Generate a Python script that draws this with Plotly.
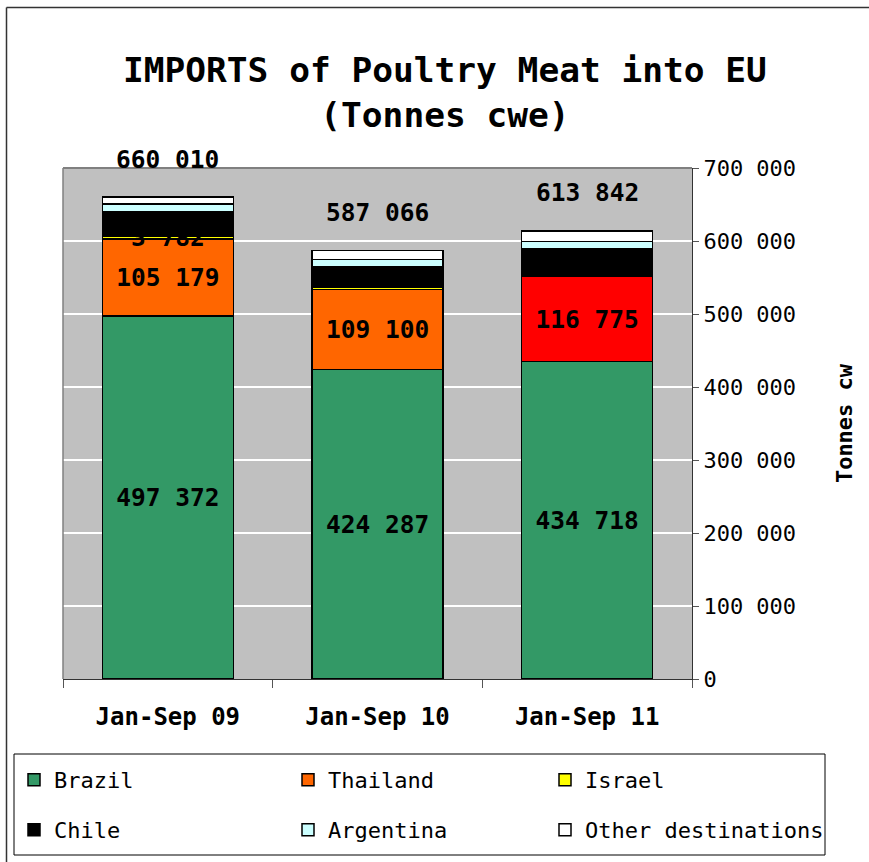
import plotly.graph_objects as go

# ---- data ----
periods = ["Jan-Sep 09", "Jan-Sep 10", "Jan-Sep 11"]
brazil = [497372, 424287, 434718]
thailand = [105179, 109100, 116775]
israel = [3782, 3700, 900]
chile = [33300, 27800, 37000]
argentina = [11000, 10000, 10000]
other = [9349, 12179, 14449]
totals = [660010, 587066, 613842]
ytick_vals = [0, 100000, 200000, 300000, 400000, 500000, 600000, 700000]

thai_colors = ["#FF6600", "#FF6600", "#FF0000"]


def fmt(v):
    return f"{v:,}".replace(",", " ")


W, H = 869, 862
L, R, T, B = 63, 692, 168, 679  # plot area pixels


def px_x(p):
    return (p - L) / (R - L)


def px_y(p):
    return (B - p) / (B - T)


MONO = "DejaVu Sans Mono"
line = dict(color="black", width=1.5)
lab_font = dict(family=MONO, size=24.5, color="black", weight="bold")

fig = go.Figure()
fig.add_trace(go.Bar(name="Brazil", x=periods, y=brazil, marker=dict(color="#339966", line=line),
                     text=[fmt(v) for v in brazil], textposition="inside", insidetextanchor="middle",
                     textfont=lab_font, constraintext="none", legend="legend"))
fig.add_trace(go.Bar(name="Thailand", x=periods, y=thailand, marker=dict(color=thai_colors, line=line),
                     text=[fmt(v) for v in thailand], textposition="inside", insidetextanchor="middle",
                     textfont=lab_font, constraintext="none", legend="legend2"))
fig.add_trace(go.Bar(name="Israel", x=periods, y=israel, marker=dict(color="#FFFF00", line=line),
                     text=[fmt(israel[0]), "", ""], textposition="inside", insidetextanchor="middle",
                     textfont=lab_font, constraintext="none", legend="legend3"))
fig.add_trace(go.Bar(name="Chile", x=periods, y=chile, marker=dict(color="#000000", line=line),
                     legend="legend4"))
fig.add_trace(go.Bar(name="Argentina", x=periods, y=argentina, marker=dict(color="#CCFFFF", line=line),
                     legend="legend5"))
fig.add_trace(go.Bar(name="Other destinations", x=periods, y=other, marker=dict(color="#FFFFFF", line=line),
                     legend="legend6"))

for p, t in zip(periods, totals):
    fig.add_annotation(x=p, y=t, text=fmt(t), showarrow=False, yshift=38, yanchor="middle",
                       font=lab_font)

legend_common = dict(orientation="v", xanchor="left", yanchor="middle", traceorder="normal",
                     itemwidth=30, bgcolor="rgba(0,0,0,0)", borderwidth=0,
                     font=dict(family=MONO, size=22, color="black"))
col_x = [14, 288, 545]
row_y = [780, 830]
legends = {}
for i in range(6):
    key = "legend" if i == 0 else f"legend{i + 1}"
    legends[key] = dict(x=px_x(col_x[i % 3]), y=px_y(row_y[i // 3]), **legend_common)

fig.update_layout(
    width=W, height=H,
    margin=dict(l=L, r=W - R, t=T, b=H - B, autoexpand=False),
    paper_bgcolor="white", plot_bgcolor="#C0C0C0",
    barmode="stack", bargap=0.375,
    title=dict(text="<b>IMPORTS of Poultry Meat into EU<br>(Tonnes cwe)</b>", x=0.512, xanchor="center",
               y=1 - 82 / H, yanchor="middle",
               font=dict(family=MONO, size=34.5, color="black")),
    showlegend=True,
    **legends,
    xaxis=dict(showgrid=False, showline=True, linecolor="#333333", linewidth=1,
               ticks="outside", tickson="boundaries", ticklen=8, tickcolor="#555555",
               ticklabelstandoff=16,
               tickfont=dict(family=MONO, size=24, color="black", weight="bold")),
    yaxis=dict(side="right", range=[0, 700000], tickvals=ytick_vals,
               ticktext=[fmt(v) for v in ytick_vals],
               showgrid=True, gridcolor="white", gridwidth=2, zeroline=False,
               showline=True, linecolor="#333333", linewidth=1,
               ticks="outside", ticklen=6, tickcolor="#555555",
               tickfont=dict(family=MONO, size=22, color="black"),
               title=dict(text="<b>Tonnes cw</b>", standoff=41,
                          font=dict(family=MONO, size=22, color="black"))),
    shapes=[
        dict(type="line", xref="paper", yref="paper", x0=0, x1=1, y0=1, y1=1,
             line=dict(color="#808080", width=2)),
        dict(type="line", xref="paper", yref="paper", x0=0, x1=0, y0=0, y1=1,
             line=dict(color="#808080", width=1.5)),
        dict(type="rect", xref="paper", yref="paper", x0=px_x(14), x1=px_x(825),
             y0=px_y(855), y1=px_y(754), line=dict(color="black", width=1)),
        # chart outer border (top and left edges only visible)
        dict(type="line", xref="paper", yref="paper", x0=px_x(6.5), x1=px_x(869),
             y0=px_y(7.5), y1=px_y(7.5), line=dict(color="#333333", width=1.5)),
        dict(type="line", xref="paper", yref="paper", x0=px_x(6.5), x1=px_x(6.5),
             y0=px_y(862), y1=px_y(7.5), line=dict(color="#333333", width=1.5)),
    ],
)

fig.write_html("out.html", config={"displayModeBar": False},
               post_script="document.body.style.margin='0';")
